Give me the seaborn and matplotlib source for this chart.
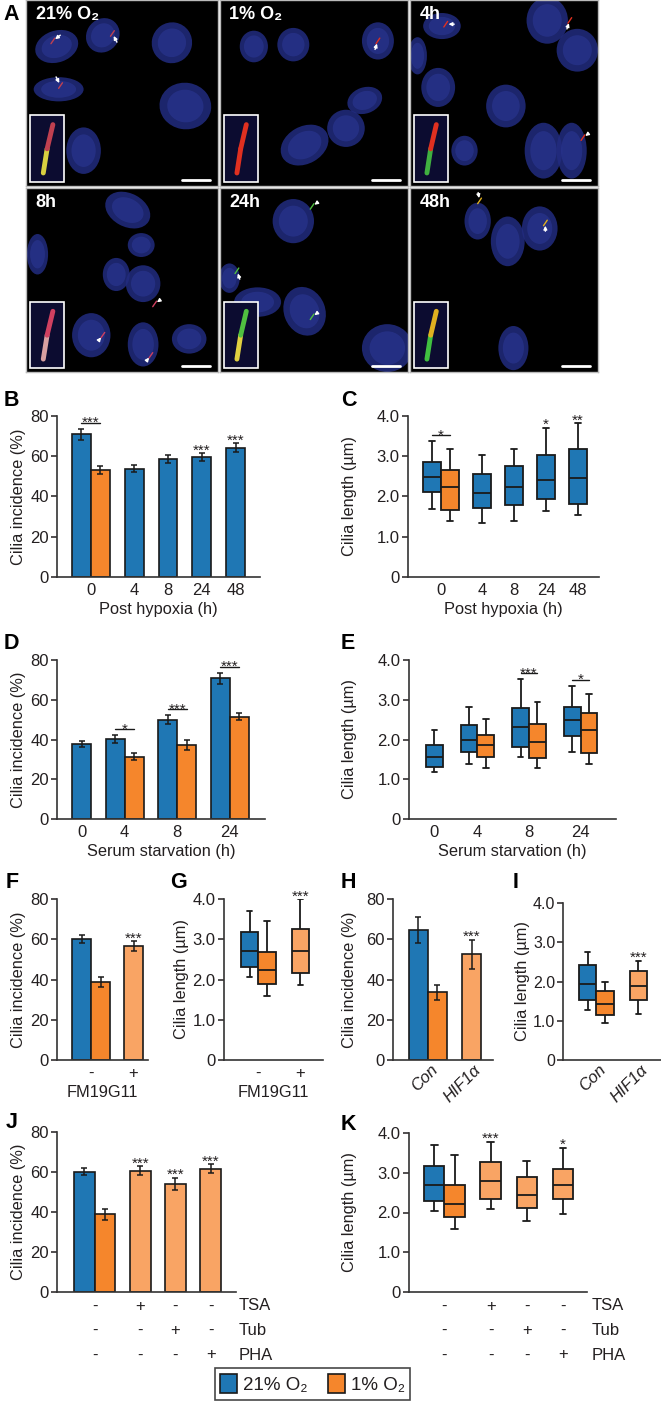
import matplotlib
matplotlib.use("Agg")
import matplotlib.pyplot as plt
import matplotlib.transforms as mtrans
from matplotlib.patches import Patch, Ellipse, Rectangle
import pandas as pd
import seaborn as sns

W, H = 661, 1401
EDGE = "#1a1a1a"
TXT = "#231f20"
PAL = {"N": "#1f77b4", "H": "#f5862c", "T": "#f9a464"}

# ---- data ----
# B / C : post hypoxia
hyp_groups = [2, 1, 1, 1, 1]
hyp_ticks = ["0", "4", "8", "24", "48"]
b_cond = ["N", "H", "N", "N", "N", "N"]
b_mean = [70.9, 53.1, 53.9, 58.6, 59.5, 64.3]
b_sem = [2.7, 2.0, 1.7, 2.2, 2.0, 2.1]
b_sig = [((0, 1), "***"), ((4,), "***"), ((5,), "***")]
# five-number summaries: low whisker, Q1, median, Q3, high whisker
c_box = [[1.70, 2.10, 2.49, 2.85, 3.37], [1.39, 1.67, 2.24, 2.67, 3.17],
         [1.34, 1.72, 2.08, 2.55, 3.04], [1.39, 1.79, 2.24, 2.75, 3.18],
         [1.63, 1.95, 2.41, 3.02, 3.71], [1.53, 1.82, 2.46, 3.17, 3.82]]
c_sig = [((0, 1), "*"), ((4,), "*"), ((5,), "**")]

# D / E : serum starvation
starve_groups = [1, 2, 2, 2]
starve_ticks = ["0", "4", "8", "24"]
d_cond = ["N", "N", "H", "N", "H", "N", "H"]
d_mean = [37.7, 40.2, 31.3, 49.9, 37.3, 70.8, 51.4]
d_sem = [1.6, 1.9, 1.8, 2.2, 2.4, 2.7, 1.8]
d_sig = [((1, 2), "*"), ((3, 4), "***"), ((5, 6), "***")]
e_box = [[1.17, 1.32, 1.55, 1.85, 2.23], [1.39, 1.68, 1.98, 2.36, 2.83],
         [1.28, 1.55, 1.85, 2.12, 2.52], [1.56, 1.80, 2.31, 2.79, 3.51],
         [1.28, 1.53, 1.93, 2.38, 2.94], [1.69, 2.09, 2.48, 2.83, 3.35],
         [1.39, 1.67, 2.23, 2.66, 3.15]]
e_sig = [((3, 4), "***"), ((5, 6), "*")]

# F / G : FM19G11 ; H / I : HIF1a
drug_groups = [2, 1]
drug_cond = ["N", "H", "T"]
fm_ticks = ["-", "+"]
f_mean = [60.2, 38.8, 56.6]
f_sem = [2.0, 2.6, 2.5]
g_box = [[2.06, 2.31, 2.71, 3.19, 3.69], [1.58, 1.88, 2.24, 2.69, 3.45],
         [1.87, 2.17, 2.71, 3.25, 4.00]]
hif_ticks = ["Con", "HIF1α"]
h_mean = [64.7, 33.7, 52.6]
h_sem = [6.6, 3.8, 7.2]
i_box = [[1.27, 1.53, 1.93, 2.41, 2.75], [0.95, 1.14, 1.42, 1.76, 2.00],
         [1.17, 1.53, 1.89, 2.27, 2.53]]
drug_sig = [((2,), "***")]

# J / K : inhibitors
inh_groups = [2, 1, 1, 1]
inh_cond = ["N", "H", "T", "T", "T"]
j_mean = [60.2, 38.8, 60.7, 54.2, 61.7]
j_sem = [1.9, 2.8, 2.2, 3.0, 2.4]
j_sig = [((2,), "***"), ((3,), "***"), ((4,), "***")]
k_box = [[2.05, 2.29, 2.70, 3.18, 3.71], [1.58, 1.89, 2.22, 2.68, 3.45],
         [2.10, 2.34, 2.79, 3.26, 3.78], [1.78, 2.12, 2.43, 2.89, 3.30],
         [1.95, 2.34, 2.70, 3.09, 3.63]]
k_sig = [((2,), "***"), ((4,), "*")]
treat_rows = ["TSA", "Tub", "PHA"]
treat_marks = [["-", "+", "-", "-"], ["-", "-", "+", "-"], ["-", "-", "-", "+"]]

tile_labels = ["21% O₂", "1% O₂", "4h", "8h", "24h", "48h"]

# ---- style ----
sns.set_theme(style="ticks")
plt.rcParams["font.family"] = ["Liberation Sans", "DejaVu Sans"]
plt.rcParams.update({
    "axes.edgecolor": "#333333", "axes.linewidth": 1.2,
    "xtick.color": TXT, "ytick.color": TXT, "text.color": TXT,
    "axes.labelcolor": TXT, "xtick.labelcolor": TXT, "ytick.labelcolor": TXT,
    "ytick.major.size": 4, "ytick.major.width": 1.1,
    "xtick.labelsize": 12, "ytick.labelsize": 12, "axes.labelsize": 11.8,
})

fig = plt.figure(figsize=(W / 100, H / 100), dpi=100)


def add_ax(x0, y0, x1, y1):
    return fig.add_axes([x0 / W, 1 - y1 / H, (x1 - x0) / W, (y1 - y0) / H])


def layout(groups, gap):
    pos, centers, left = [], [], 0.0
    for n in groups:
        pos += [left + 0.5 + i for i in range(n)]
        centers.append(left + n / 2)
        left += n + gap
    return pos, centers, left - gap


def finish(ax, ymax, box):
    sns.despine(ax=ax)
    ax.set_ylim(0, ymax)
    if box:
        ax.set_yticks([0, 1, 2, 3, 4])
        ax.set_yticklabels(["0", "1.0", "2.0", "3.0", "4.0"])
    else:
        ax.set_yticks([0, 20, 40, 60, 80])
        ax.set_yticklabels(["0", "20", "40", "60", "80"])
    ax.tick_params(axis="x", length=0, pad=4)
    ax.tick_params(axis="y", length=4, pad=2)
    ax.set_xlabel("")
    ax.set_ylabel("")


def bar_panel(ax, groups, gap, margins, conds, means, sems):
    pos, centers, right = layout(groups, gap)
    df = pd.DataFrame({"pos": pos, "value": means, "cond": conds})
    sns.barplot(data=df, x="pos", y="value", hue="cond", palette=PAL,
                native_scale=True, dodge=False, width=1, errorbar=None,
                saturation=1, edgecolor=EDGE, linewidth=1.2, legend=False, ax=ax)
    ax.errorbar(pos, means, yerr=sems, fmt="none", ecolor=EDGE, elinewidth=1.1,
                capsize=2.2, capthick=1.1, zorder=5)
    ax.set_xlim(-margins[0], right + margins[1])
    finish(ax, 80, False)
    tops = [m + s for m, s in zip(means, sems)]
    return pos, centers, tops


def box_panel(ax, groups, gap, margins, conds, boxes):
    pos, centers, right = layout(groups, gap)
    rows = [(p, v, c) for p, c, five in zip(pos, conds, boxes) for v in five]
    df = pd.DataFrame(rows, columns=["pos", "value", "cond"])
    sns.boxplot(data=df, x="pos", y="value", hue="cond", palette=PAL,
                native_scale=True, dodge=False, width=1, whis=(0, 100),
                saturation=1, linecolor=EDGE, linewidth=1.3, showfliers=False,
                legend=False, capwidths=0.32, ax=ax)
    ax.set_xlim(-margins[0], right + margins[1])
    finish(ax, 4, True)
    tops = [max(b) for b in boxes]
    return pos, centers, tops


def px2y(ax, px):
    return px * (ax.get_ylim()[1] - ax.get_ylim()[0]) / (ax.get_position().height * H)


def sig(ax, pos, tops, marks):
    for idx, text in marks:
        top = max(tops[i] for i in idx)
        if len(idx) == 2:
            y = top + px2y(ax, 6)
            ax.plot([pos[idx[0]], pos[idx[1]]], [y, y], color=EDGE, lw=1,
                    clip_on=False)
            ax.text((pos[idx[0]] + pos[idx[1]]) / 2, y - px2y(ax, 4), text,
                    ha="center", va="baseline", fontsize=11, clip_on=False)
        else:
            ax.text(pos[idx[0]], top - px2y(ax, 1.5), text, ha="center",
                    va="baseline", fontsize=11, clip_on=False)


def ylab(ax, text, right_px):
    bb = ax.get_position()
    ax.set_ylabel(text)
    ax.yaxis.set_label_coords((right_px / W - bb.x0) / bb.width, 0.5)


def xticks(ax, centers, labels, xlabel=None):
    ax.set_xticks(centers)
    ax.set_xticklabels(labels)
    if xlabel:
        ax.set_xlabel(xlabel, labelpad=3)


def rotated(ax, centers, labels):
    ax.set_xticks(centers)
    ax.set_xticklabels(labels, rotation=45, ha="right", va="center",
                       rotation_mode="anchor", style="italic")
    off = mtrans.ScaledTranslation(7 / 100, -2 / 100, fig.dpi_scale_trans)
    for lab in ax.get_xticklabels():
        lab.set_transform(lab.get_transform() + off)


def table(ax, pos, centers, right_px):
    bb = ax.get_position()
    cols = [centers[0]] + pos[2:]
    trans = mtrans.blended_transform_factory(ax.transData, ax.transAxes)
    hpx = bb.height * H
    for r, (name, row) in enumerate(zip(treat_rows, treat_marks)):
        y = (-14 - 24.5 * r) / hpx
        for x, s in zip(cols, row):
            ax.text(x, y, s, transform=trans, ha="center", va="center",
                    fontsize=12)
        ax.text((right_px / W - bb.x0) / bb.width, y, name,
                transform=ax.transAxes, ha="left", va="center", fontsize=12)
    ax.set_xticks([])


def letter(x, y, s):
    fig.text(x / W, 1 - y / H, s, fontsize=15.5, fontweight="bold",
             ha="left", va="center", color="black")


# ---- panel A: microscopy tiles (schematic) ----
nuclei = [
    [(0.16, 0.75, 0.23, 0.17, 20), (0.40, 0.81, 0.17, 0.19, -30), (0.76, 0.77, 0.22, 0.21, 80),
     (0.17, 0.52, 0.26, 0.13, 0), (0.83, 0.43, 0.25, 0.27, 80), (0.30, 0.19, 0.18, 0.25, 0)],
    [(0.18, 0.75, 0.15, 0.17, 0), (0.39, 0.76, 0.17, 0.18, 0), (0.84, 0.78, 0.17, 0.20, 0),
     (0.77, 0.46, 0.19, 0.14, 20), (0.67, 0.31, 0.20, 0.20, 0), (0.45, 0.22, 0.27, 0.20, 30)],
    [(0.17, 0.86, 0.20, 0.14, 0), (0.73, 0.89, 0.22, 0.25, 0), (0.89, 0.73, 0.22, 0.23, 0),
     (0.15, 0.53, 0.18, 0.21, 0), (0.51, 0.43, 0.21, 0.23, 0), (0.71, 0.19, 0.20, 0.30, 0),
     (0.86, 0.19, 0.16, 0.30, 0), (0.29, 0.19, 0.14, 0.16, 0), (0.04, 0.70, 0.10, 0.20, 0)],
    [(0.53, 0.88, 0.25, 0.18, -30), (0.60, 0.69, 0.14, 0.13, 0), (0.47, 0.53, 0.14, 0.18, 0),
     (0.61, 0.48, 0.18, 0.20, 0), (0.34, 0.20, 0.20, 0.24, 0), (0.61, 0.15, 0.16, 0.24, 0),
     (0.85, 0.18, 0.18, 0.16, 0), (0.06, 0.64, 0.11, 0.22, 0)],
    [(0.39, 0.82, 0.22, 0.24, 0), (0.05, 0.51, 0.11, 0.16, 0), (0.20, 0.38, 0.25, 0.16, 0),
     (0.45, 0.33, 0.22, 0.27, 20), (0.89, 0.13, 0.27, 0.26, 0)],
    [(0.36, 0.82, 0.14, 0.20, 0), (0.52, 0.71, 0.18, 0.27, 0), (0.69, 0.78, 0.19, 0.24, 0),
     (0.55, 0.13, 0.16, 0.24, 0)],
]
arrows = [
    [(0.14, 0.78, 0.19, 0.82), (0.45, 0.82, 0.48, 0.76), (0.18, 0.54, 0.15, 0.60)],
    [(0.84, 0.78, 0.82, 0.72)],
    [(0.19, 0.87, 0.25, 0.87), (0.85, 0.89, 0.83, 0.83), (0.92, 0.26, 0.96, 0.29)],
    [(0.67, 0.37, 0.71, 0.40), (0.40, 0.20, 0.37, 0.16), (0.65, 0.09, 0.62, 0.05)],
    [(0.49, 0.90, 0.53, 0.93), (0.09, 0.55, 0.11, 0.49), (0.49, 0.30, 0.53, 0.33)],
    [(0.37, 0.93, 0.36, 0.99), (0.72, 0.81, 0.72, 0.75)],
]
cilia = [("#d8d040", "#c04050"), ("#e03020", "#e03020"), ("#40b040", "#e03020"),
         ("#d8a0a0", "#d04060"), ("#e0d040", "#50c040"), ("#40c040", "#e0b020")]
tiles_x = [(26, 218), (220, 408), (410, 598)]
tiles_y = [(0, 186), (188, 372)]
k = 0
for (y0, y1) in tiles_y:
    for (x0, x1) in tiles_x:
        ax = add_ax(x0, y0, x1, y1)
        ax.set_facecolor("black")
        ax.set_xlim(0, 1)
        ax.set_ylim(0, 1)
        ax.set_xticks([])
        ax.set_yticks([])
        for s in ax.spines.values():
            s.set_color("#bbbbbb")
            s.set_linewidth(1)
        for cx, cy, w, h, a in nuclei[k]:
            ax.add_patch(Ellipse((cx, cy), w, h, angle=a, color="#222c80", alpha=0.85, lw=0))
            ax.add_patch(Ellipse((cx, cy), w * 0.7, h * 0.7, angle=a, color="#2b3794", alpha=0.6, lw=0))
        for tx, ty, sx, sy in arrows[k]:
            ax.annotate("", xy=(tx, ty), xytext=(sx, sy),
                        arrowprops=dict(arrowstyle="-|>", color="white", lw=1,
                                        mutation_scale=5))
            ax.plot([tx - 0.01, tx + 0.01], [ty - 0.015, ty + 0.015], color=cilia[k][1], lw=1)
        ax.add_patch(Rectangle((0.02, 0.02), 0.18, 0.36, facecolor="#0c0c30",
                               edgecolor="white", lw=1.2))
        ax.plot([0.09, 0.11], [0.07, 0.20], color=cilia[k][0], lw=3.5, solid_capstyle="round")
        ax.plot([0.11, 0.14], [0.20, 0.33], color=cilia[k][1], lw=3.5, solid_capstyle="round")
        ax.plot([0.81, 0.96], [0.03, 0.03], color="white", lw=2)
        ax.text(0.05, 0.92, tile_labels[k], color="white", fontsize=13,
                fontweight="bold", ha="left", va="center")
        k += 1
letter(3, 14, "A")

# ---- B ----
ax = add_ax(57, 416, 260, 577)
pos, cen, tops = bar_panel(ax, hyp_groups, 0.78, (0.79, 0.79), b_cond, b_mean, b_sem)
sig(ax, pos, tops, b_sig)
xticks(ax, cen, hyp_ticks, "Post hypoxia (h)")
ylab(ax, "Cilia incidence (%)", 26)
letter(4, 400, "B")

# ---- C ----
ax = add_ax(408, 416, 599, 577)
pos, cen, tops = box_panel(ax, hyp_groups, 0.76, (0.81, 0.65), b_cond, c_box)
sig(ax, pos, tops, c_sig)
xticks(ax, cen, hyp_ticks, "Post hypoxia (h)")
ylab(ax, "Cilia length (µm)", 357)
letter(341, 400, "C")

# ---- D ----
ax = add_ax(57, 660, 265, 819)
pos, cen, tops = bar_panel(ax, starve_groups, 0.76, (0.79, 0.84), d_cond, d_mean, d_sem)
sig(ax, pos, tops, d_sig)
xticks(ax, cen, starve_ticks, "Serum starvation (h)")
ylab(ax, "Cilia incidence (%)", 26)
letter(4, 643, "D")

# ---- E ----
ax = add_ax(409, 660, 616, 819)
pos, cen, tops = box_panel(ax, starve_groups, 1.05, (1.0, 1.1), d_cond, e_box)
sig(ax, pos, tops, e_sig)
xticks(ax, cen, starve_ticks, "Serum starvation (h)")
ylab(ax, "Cilia length (µm)", 357)
letter(341, 643, "E")

# ---- F ----
ax = add_ax(57, 899, 148, 1060)
pos, cen, tops = bar_panel(ax, drug_groups, 0.74, (0.79, 0.26), drug_cond, f_mean, f_sem)
sig(ax, pos, tops, drug_sig)
xticks(ax, cen, fm_ticks, "FM19G11")
ylab(ax, "Cilia incidence (%)", 26)
letter(6, 882, "F")

# ---- G ----
ax = add_ax(224, 899, 323, 1060)
pos, cen, tops = box_panel(ax, drug_groups, 0.9, (0.97, 0.8), drug_cond, g_box)
sig(ax, pos, tops, drug_sig)
xticks(ax, cen, fm_ticks, "FM19G11")
ylab(ax, "Cilia length (µm)", 189)
letter(170, 882, "G")

# ---- H ----
ax = add_ax(393, 899, 493, 1060)
pos, cen, tops = bar_panel(ax, drug_groups, 0.79, (0.84, 0.63), drug_cond, h_mean, h_sem)
sig(ax, pos, tops, drug_sig)
rotated(ax, cen, hif_ticks)
ylab(ax, "Cilia incidence (%)", 357)
letter(341, 882, "H")

# ---- I ----
ax = add_ax(563, 903, 661, 1060)
pos, cen, tops = box_panel(ax, drug_groups, 0.91, (0.91, 0.8), drug_cond, i_box)
sig(ax, pos, tops, drug_sig)
rotated(ax, cen, hif_ticks)
ax.tick_params(axis="y", labelsize=11.5, pad=1.5)
ylab(ax, "Cilia length (µm)", 530)
letter(513, 882, "I")

# ---- J ----
ax = add_ax(57, 1132, 236, 1292)
pos, cen, tops = bar_panel(ax, inh_groups, 0.71, (0.83, 0.73), inh_cond, j_mean, j_sem)
sig(ax, pos, tops, j_sig)
table(ax, pos, cen, 239)
ylab(ax, "Cilia incidence (%)", 26)
letter(6, 1123, "J")

# ---- K ----
ax = add_ax(409, 1133, 587, 1292)
pos, cen, tops = box_panel(ax, inh_groups, 0.77, (0.74, 0.69), inh_cond, k_box)
sig(ax, pos, tops, k_sig)
table(ax, pos, cen, 592)
ylab(ax, "Cilia length (µm)", 357)
letter(341, 1125, "K")

# ---- legend ----
handles = [Patch(facecolor=PAL["N"], edgecolor=EDGE, lw=1.2),
           Patch(facecolor=PAL["H"], edgecolor=EDGE, lw=1.2)]
leg = fig.legend(handles, ["21% O₂", "1% O₂"], loc="center",
                 bbox_to_anchor=(312.5 / W, 1 - 1384 / H), ncol=2, fontsize=13.5,
                 frameon=True, fancybox=False, edgecolor=EDGE, handlelength=0.9,
                 handleheight=1.2, handletextpad=0.3, columnspacing=1.1,
                 borderpad=0.3, borderaxespad=0)
leg.get_frame().set_linewidth(1.2)

fig.savefig("out.png", dpi=100, facecolor="white")
